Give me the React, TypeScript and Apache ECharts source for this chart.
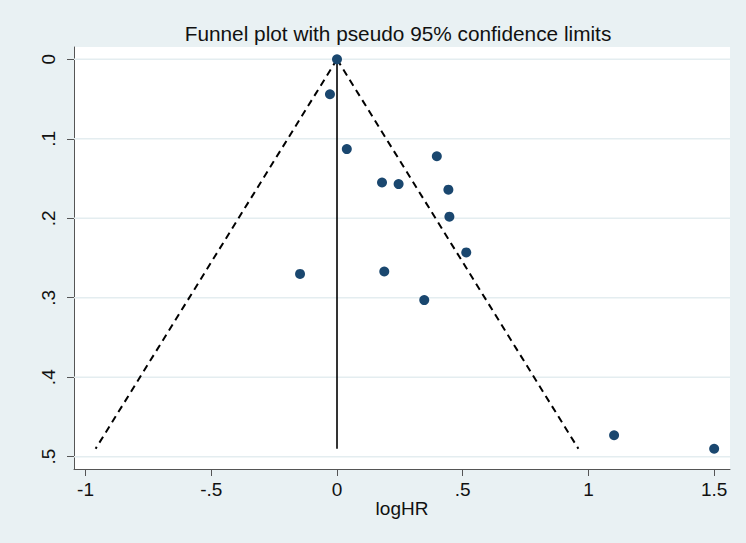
import React, { useEffect, useRef } from "react";
import * as echarts from "echarts";

// Study estimates
const logHR = [0.0, -0.028, 0.039, 0.397, 0.179, 0.245, 0.443, 0.447, 0.514, -0.147, 0.188, 0.347, 1.102, 1.5];
const seLogHR = [0.0, 0.044, 0.113, 0.122, 0.155, 0.157, 0.164, 0.198, 0.243, 0.27, 0.267, 0.303, 0.473, 0.49];

// Pooled estimate line and pseudo 95% confidence limits
const pooledLine = [[0.0, 0.0], [0.0, 0.49]];
const lowerLimit = [[0.0, 0.0], [-0.96, 0.49]];
const upperLimit = [[0.0, 0.0], [0.96, 0.49]];

// Axis ranges and ticks
const xRange = [-1.046, 1.563];
const yRange = [-0.0155, 0.5155];
const xTicks = [-1, -0.5, 0, 0.5, 1, 1.5];
const xTickLabels = ["-1", "-.5", "0", ".5", "1", "1.5"];
const yTicks = [0, 0.1, 0.2, 0.3, 0.4, 0.5];
const yTickLabels = ["0", ".1", ".2", ".3", ".4", ".5"];

const FONT = "'Liberation Sans', Arial, sans-serif";

export default function App() {
  const ref = useRef<HTMLDivElement>(null);
  useEffect(() => {
    document.body.style.margin = "0";
    const chart = echarts.init(ref.current!, null, { renderer: "svg" });
    const labelOf = (ticks: number[], labels: string[]) => (v: number) => {
      const i = ticks.findIndex((t) => Math.abs(t - v) < 1e-9);
      return i >= 0 ? labels[i] : "";
    };
    const gridSeries = yTicks.map((v) => ({
      type: "line",
      data: [[xRange[0], v], [xRange[1], v]],
      symbol: "none",
      silent: true,
      z: 1,
      lineStyle: { color: "#e4edf0", width: 1.5, type: "solid" },
    }));
    chart.setOption({
      animation: false,
      backgroundColor: "#e9f1f3",
      textStyle: { fontFamily: FONT },
      title: {
        text: "Funnel plot with pseudo 95% confidence limits",
        left: 393,
        top: 18,
        textAlign: "center",
        textStyle: { fontFamily: FONT, fontSize: 20.8, fontWeight: "normal", color: "#111" },
      },
      grid: {
        left: 74,
        right: 16,
        top: 47,
        bottom: 74,
        show: true,
        backgroundColor: "#ffffff",
        borderWidth: 0,
      },
      xAxis: {
        type: "value",
        min: xRange[0],
        max: xRange[1],
        name: "logHR",
        nameLocation: "middle",
        nameGap: 30,
        nameMoveOverlap: false,
        nameTextStyle: { fontFamily: FONT, fontSize: 19, color: "#111" },
        axisLine: { show: true, onZero: false, lineStyle: { color: "#555", width: 1 } },
        axisTick: { show: true, customValues: xTicks, length: 7, lineStyle: { color: "#555" } },
        axisLabel: {
          customValues: xTicks,
          formatter: labelOf(xTicks, xTickLabels),
          fontFamily: FONT,
          fontSize: 19,
          color: "#111",
          margin: 11,
        },
        splitLine: { show: false },
      },
      yAxis: {
        type: "value",
        inverse: true,
        min: yRange[0],
        max: yRange[1],
        axisLine: { show: true, onZero: false, lineStyle: { color: "#555", width: 1 } },
        axisTick: { show: true, customValues: yTicks, length: 7, lineStyle: { color: "#555" } },
        axisLabel: {
          customValues: yTicks,
          formatter: labelOf(yTicks, yTickLabels),
          rotate: 90,
          fontFamily: FONT,
          fontSize: 19,
          color: "#111",
          margin: 16,
        },
        splitLine: { show: false },
      },
      series: [
        ...gridSeries,
        {
          type: "line",
          data: lowerLimit,
          symbol: "none",
          z: 2,
          lineStyle: { color: "#000", width: 2, type: [7, 5] },
        },
        {
          type: "line",
          data: upperLimit,
          symbol: "none",
          z: 2,
          lineStyle: { color: "#000", width: 2, type: [7, 5] },
        },
        {
          type: "line",
          data: pooledLine,
          symbol: "none",
          z: 2,
          lineStyle: { color: "#000", width: 1.6, type: "solid" },
        },
        {
          type: "scatter",
          data: logHR.map((x, i) => [x, seLogHR[i]]),
          symbolSize: 10,
          z: 3,
          itemStyle: { color: "#1a476f", opacity: 1 },
        },
      ],
    });
    return () => chart.dispose();
  }, []);
  return <div ref={ref} style={{ position: "fixed", left: 0, top: 0, width: 746, height: 543 }} />;
}
